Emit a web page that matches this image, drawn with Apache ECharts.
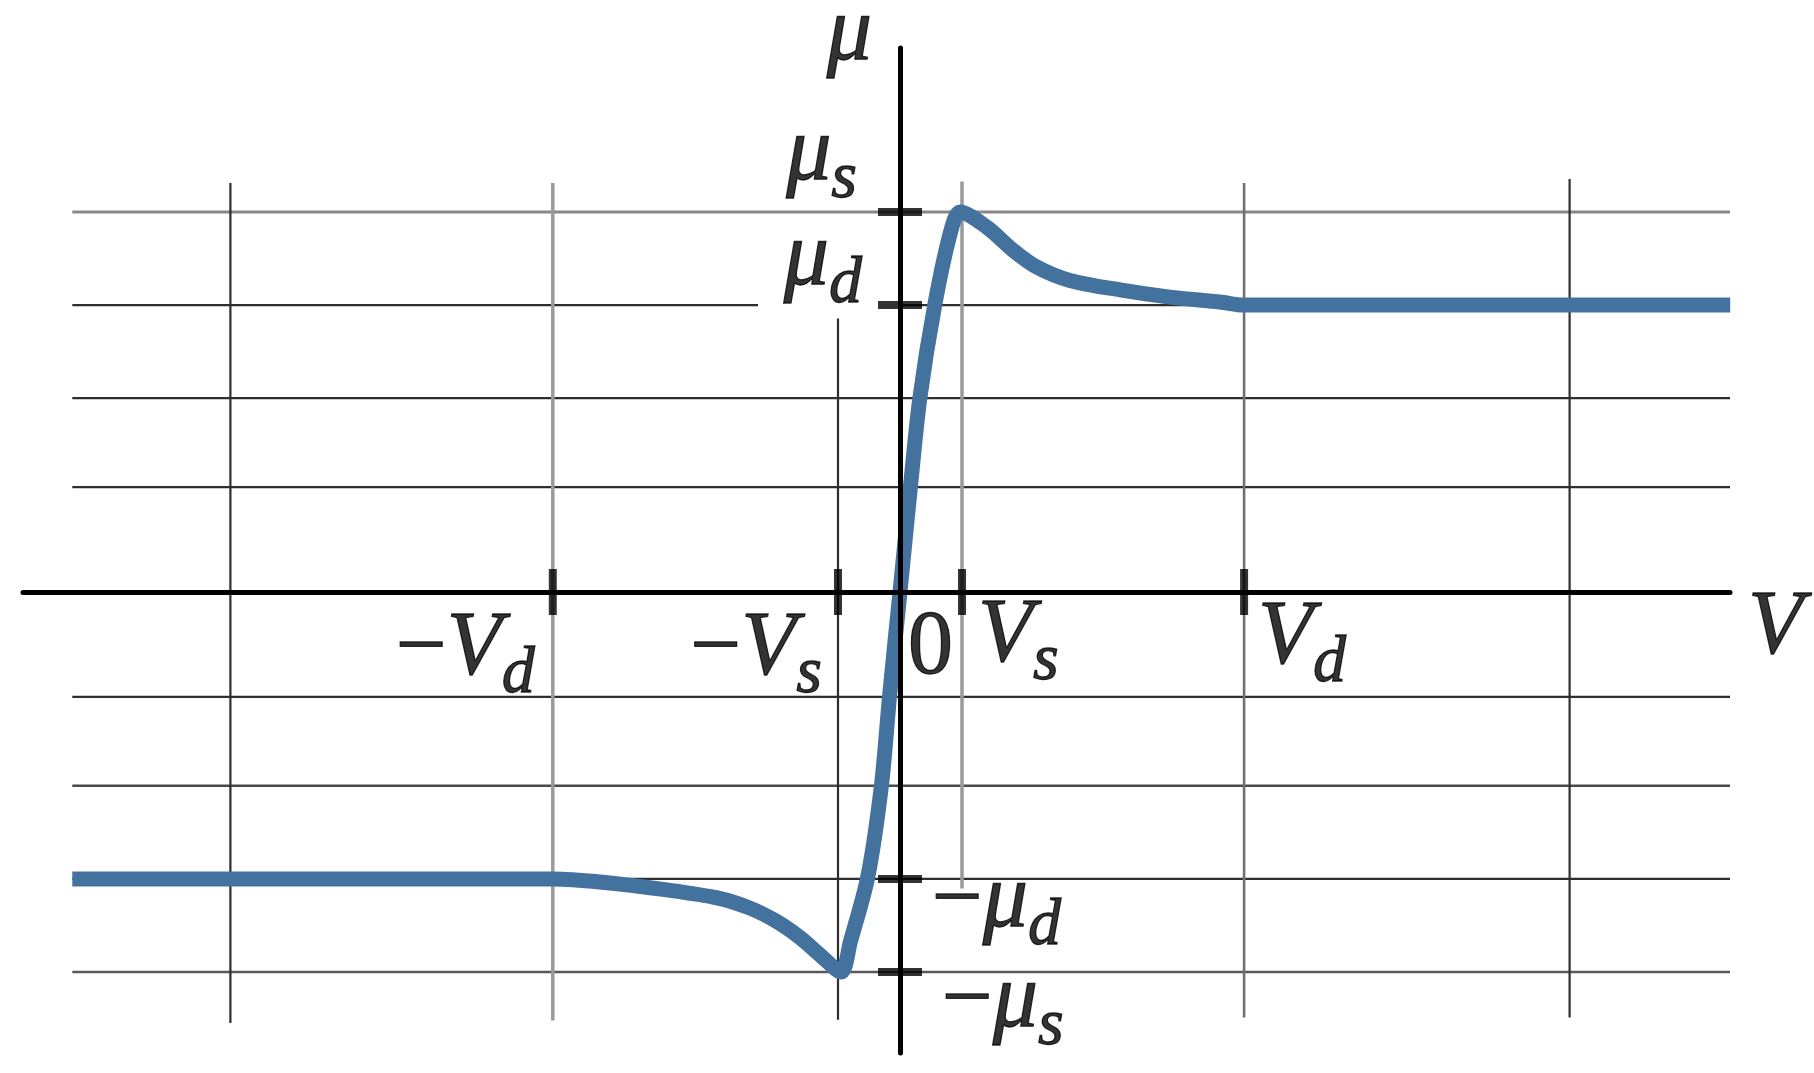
<!DOCTYPE html>
<html>
<head>
<meta charset="utf-8">
<script src="https://cdn.jsdelivr.net/npm/echarts@6/dist/echarts.min.js"></script>
<style>
html,body{margin:0;padding:0;background:#fff;}
#chart{width:1814px;height:1073px;}
</style>
</head>
<body>
<div id="chart"></div>
<script>
// ---------------- data (axis units: V in units of V_s, μ in units of μ_s) ----------------
const xRange = [-14.145, 13.387];
const yRange = [-1.2132, 1.4316];

const xMarkNames  = ['−V_d', '−V_s', '0', 'V_s', 'V_d'];
const xMarkValues = [-5.6, -1, 0, 1, 5.55];
const xTickValues = [-5.6, -1, 1, 5.55];

const yMarkNames  = ['μ_s', 'μ_d', '−μ_d', '−μ_s'];
const yMarkValues = [1, 0.755, -0.755, -1];

const axisNames = ['V', 'μ'];

const hGridValues = [1, 0.755, 0.51, 0.276, -0.276, -0.51, -0.755, -1];
const hGridStart = -13.35;
const hGridEnd = 13.387;
const muDGapEnd = -2.29;

const vGridValues = [-10.8, -5.6, -1, 1, 5.55, 10.8];
const vGridTop    = [1.076, 1.076, 0.72, 1.08, 1.076, 1.087];
const vGridBottom = [-1.134, -1.128, -1.126, -0.78, -1.12, -1.12];

const curveV  = [-13.35, -9, -5.6, -4.84, -3.76, -2.95, -2.42, -1.98, -1.61, -1.29, -0.95,
                 -0.8, -0.52, -0.30, -0.166, 0, 0.17, 0.32, 0.56, 0.82, 0.97,
                 1.40, 1.82, 2.21, 2.74, 3.55, 4.35, 5.16, 5.55, 9, 13.39];
const curveMu = [-0.755, -0.755, -0.755, -0.763, -0.784, -0.805, -0.832, -0.868, -0.91, -0.955, -1.0,
                 -0.92, -0.75, -0.51, -0.27, 0, 0.28, 0.51, 0.755, 0.95, 1.0,
                 0.96, 0.90, 0.855, 0.82, 0.795, 0.776, 0.763, 0.755, 0.755, 0.755];

// ---------------- styles ----------------
const FONT = 'Liberation Serif';
const hGridStyle = [
  {color:'#888888', width:3}, {color:'#2e2e2e', width:2.2}, {color:'#2e2e2e', width:2.2}, {color:'#2e2e2e', width:2.2},
  {color:'#2e2e2e', width:2.2}, {color:'#4a4a4a', width:2.4}, {color:'#2e2e2e', width:2.2}, {color:'#5a5a5a', width:2.6}
];
const vGridStyle = [
  {color:'#2e2e2e', width:2.2}, {color:'#9a9a9a', width:3.5}, {color:'#2e2e2e', width:2.2},
  {color:'#9a9a9a', width:3.5}, {color:'#707070', width:2.6}, {color:'#2e2e2e', width:2.2}
];
const labelPlace = {
  '−V_d': {align:'right', dx:-18, dy:13},
  '−V_s': {align:'right', dx:-16, dy:13},
  '0':    {align:'left',  dx:8,   dy:12},
  'V_s':  {align:'left',  dx:16,  dy:0},
  'V_d':  {align:'left',  dx:14,  dy:2},
  'V':    {align:'left',  dx:18,  dy:-8},
  'μ':    {align:'right', dx:-28, dy:-58},
  'μ_s':  {align:'right', dx:-43, dy:-102},
  'μ_d':  {align:'right', dx:-38, dy:-90},
  '−μ_d': {align:'left',  dx:32,  dy:-22},
  '−μ_s': {align:'left',  dx:42,  dy:-15}
};

function toRich(name) {
  const parts = name.split('_');
  let out = '';
  for (const ch of parts[0]) {
    out += (ch === '−' || /[0-9]/.test(ch)) ? '{m|' + ch + '}' : '{i|' + ch + '}';
  }
  if (parts[1]) out += '{s|' + parts[1] + '}';
  return out;
}

// ---------------- build series ----------------
const series = [];

hGridValues.forEach((v, i) => {
  const segs = (i === 1)
    ? [[[hGridStart, v], [muDGapEnd, v]], [[0, v], [hGridEnd, v]]]
    : [[[hGridStart, v], [hGridEnd, v]]];
  segs.forEach(seg => series.push({
    type:'line', data: seg, symbol:'none', silent:true, z:1,
    lineStyle:{color:hGridStyle[i].color, width:hGridStyle[i].width, cap:'butt'}
  }));
});

vGridValues.forEach((v, i) => {
  series.push({
    type:'line', data:[[v, vGridTop[i]], [v, vGridBottom[i]]], symbol:'none', silent:true, z:1,
    lineStyle:{color:vGridStyle[i].color, width:vGridStyle[i].width, cap:'butt'}
  });
});

series.push({
  type:'line', data: curveV.map((x, i) => [x, curveMu[i]]), symbol:'none', silent:true, z:2,
  smooth:0.3,
  lineStyle:{color:'#44729f', width:15, cap:'butt', join:'round'}
});

series.push({
  type:'scatter', silent:true, z:8, symbol:'rect', symbolSize:[8, 46],
  itemStyle:{color:'#000'},
  data: xTickValues.map(x => [x, 0])
});
series.push({
  type:'scatter', silent:true, z:8, symbol:'rect', symbolSize:[44, 8],
  itemStyle:{color:'#000'},
  data: yMarkValues.map(y => [0, y])
});

const labelItems = [];
xMarkNames.forEach((n, i) => labelItems.push({name:n, value:[xMarkValues[i], 0]}));
yMarkNames.forEach((n, i) => labelItems.push({name:n, value:[0, yMarkValues[i]]}));
labelItems.push({name:axisNames[0], value:[xRange[1], 0]});
labelItems.push({name:axisNames[1], value:[0, yRange[1]]});
labelItems.forEach(it => {
  const p = labelPlace[it.name];
  it.label = {align:p.align, offset:[p.dx, p.dy]};
});

const tok = {color:'#000', textBorderColor:'#000', textBorderWidth:1.3, fontFamily:FONT, verticalAlign:'top'};
series.push({
  type:'scatter', silent:true, z:9, symbolSize:1,
  itemStyle:{color:'rgba(0,0,0,0)'},
  label:{
    show:true, position:'inside', verticalAlign:'top', color:'#000',
    fontFamily:FONT, fontSize:90,
    formatter: p => toRich(p.name),
    rich:{
      m:Object.assign({fontSize:90, fontStyle:'normal'}, tok),
      i:Object.assign({fontSize:90, fontStyle:'italic'}, tok),
      s:Object.assign({fontSize:66, fontStyle:'italic', padding:[37,0,0,0]}, tok)
    }
  },
  data: labelItems
});

const chart = echarts.init(document.getElementById('chart'), null, {renderer:'canvas'});
chart.setOption({
  animation:false,
  backgroundColor:'#ffffff',
  grid:{left:23, right:84, top:48, bottom:20, containLabel:false},
  xAxis:{
    type:'value', min:xRange[0], max:xRange[1], z:5,
    axisLine:{show:true, onZero:true, lineStyle:{color:'#000', width:5}},
    axisTick:{show:false}, axisLabel:{show:false}, splitLine:{show:false}
  },
  yAxis:{
    type:'value', min:yRange[0], max:yRange[1], z:5,
    axisLine:{show:true, onZero:true, lineStyle:{color:'#000', width:5}},
    axisTick:{show:false}, axisLabel:{show:false}, splitLine:{show:false}
  },
  series: series
});
</script>
</body>
</html>
